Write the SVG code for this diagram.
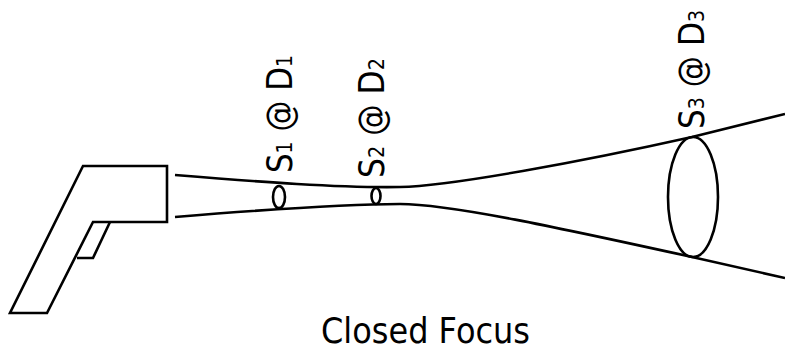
<svg xmlns="http://www.w3.org/2000/svg" width="785" height="351" viewBox="0 0 785 351">
  <style>
    .ln { fill: none; stroke: #000; stroke-width: 2.6; stroke-linejoin: miter; }
    .lbl { font-family: "DejaVu Sans", Verdana, sans-serif; font-size: 36px; fill: #000; }
    .sub { font-size: 22px; }
    .cap { font-family: "DejaVu Sans", Verdana, sans-serif; font-size: 35px; fill: #000; }
  </style>
  <rect width="785" height="351" fill="#fff"/>

  <!-- handheld thermometer -->
  <g id="gun">
    <polygon class="ln" points="83,166 167,166 167,222 93,222 47,313 10,313"/>
    <polyline class="ln" points="110,222 93,258 77,258"/>
  </g>

  <!-- beam outline -->
  <g id="connectors">
    <path class="ln" d="M175,175 C260,182 340,188 400,187 C450,186 580,162 692,137 L785,114"/>
    <path class="ln" d="M175,217 C260,210 340,204 400,204 C450,204 560,228 692,257 L785,278"/>
  </g>

  <!-- spot cross-sections -->
  <g id="spot1">
    <ellipse class="ln" cx="279" cy="197" rx="6" ry="11"/>
    <text class="lbl" transform="translate(292,173) rotate(-90)" textLength="118" lengthAdjust="spacingAndGlyphs">S<tspan class="sub">1</tspan> @ D<tspan class="sub">1</tspan></text>
  </g>
  <g id="spot2">
    <ellipse class="ln" cx="376" cy="196" rx="4.5" ry="8"/>
    <text class="lbl" transform="translate(384,178) rotate(-90)" textLength="120" lengthAdjust="spacingAndGlyphs">S<tspan class="sub">2</tspan> @ D<tspan class="sub">2</tspan></text>
  </g>
  <g id="spot3">
    <ellipse class="ln" cx="693" cy="197" rx="25" ry="60"/>
    <text class="lbl" transform="translate(704,129) rotate(-90)" textLength="119" lengthAdjust="spacingAndGlyphs">S<tspan class="sub">3</tspan> @ D<tspan class="sub">3</tspan></text>
  </g>

  <g id="caption">
    <text class="cap" x="321" y="343" textLength="209" lengthAdjust="spacingAndGlyphs">Closed Focus</text>
  </g>
</svg>
